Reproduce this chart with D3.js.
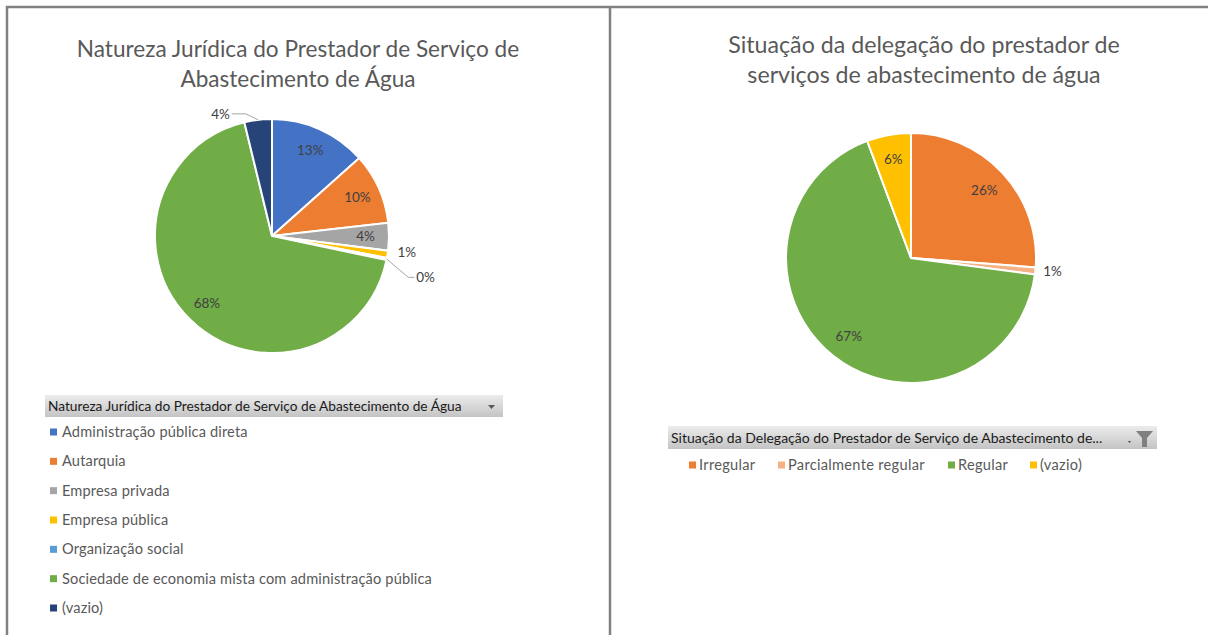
<!DOCTYPE html>
<html>
<head>
<meta charset="utf-8">
<script src="https://cdn.jsdelivr.net/npm/d3@7"></script>
<style>
  body { margin: 0; background: #fff; }
  svg { display: block; font-family: Lato, "Open Sans", sans-serif; }
</style>
</head>
<body>
<svg id="chart" width="1208" height="635"></svg>
<script>
// left chart data
const natCategories = ["Administração pública direta", "Autarquia", "Empresa privada", "Empresa pública",
  "Organização social", "Sociedade de economia mista com administração pública", "(vazio)"];
const natValues = [13.4, 9.8, 3.8, 1.0, 0.3, 67.9, 3.8];
const natColors = ["#4472C4", "#ED7D31", "#A5A5A5", "#FFC000", "#5B9BD5", "#70AD47", "#264478"];
const natTitle = ["Natureza Jurídica do Prestador de Serviço de", "Abastecimento de Água"];
const natLegendTitle = "Natureza Jurídica do Prestador de Serviço de Abastecimento de Água";

// right chart data
const delCategories = ["Irregular", "Parcialmente regular", "Regular", "(vazio)"];
const delValues = [26.2, 0.9, 67.2, 5.7];
const delColors = ["#ED7D31", "#F4B183", "#70AD47", "#FFC000"];
const delTitle = ["Situação da delegação do prestador de", "serviços de abastecimento de água"];
const delLegendTitle = "Situação da Delegação do Prestador de Serviço de Abastecimento de...";

const svg = d3.select("#chart");

// frame lines
svg.append("path")
  .attr("d", "M7,635 V7 H1208 M610,7 V635")
  .attr("fill", "none")
  .attr("stroke", "#808080")
  .attr("stroke-width", 2.5);

// gradient for the pivot header bars
const grad = svg.append("defs").append("linearGradient")
  .attr("id", "hdr").attr("x1", 0).attr("y1", 0).attr("x2", 0).attr("y2", 1);
grad.append("stop").attr("offset", "0%").attr("stop-color", "#ececec");
grad.append("stop").attr("offset", "100%").attr("stop-color", "#c4c4c4");

const fmt = v => Math.round(v) + "%";

function drawPie(opts) {
  const g = svg.append("g").attr("transform", `translate(${opts.cx},${opts.cy})`);
  const pie = d3.pie().sort(null).value(d => d);
  const arcs = pie(opts.values);
  const arc = d3.arc().innerRadius(0).outerRadius(opts.r);
  const labelArc = d3.arc().innerRadius(opts.r * 0.8).outerRadius(opts.r * 0.8);

  g.selectAll("path.slice")
    .data(arcs)
    .join("path")
    .attr("class", "slice")
    .attr("d", arc)
    .attr("fill", (d, i) => opts.colors[i])
    .attr("stroke", "#fff")
    .attr("stroke-width", 2);

  arcs.forEach((d, i) => {
    const mid = (d.startAngle + d.endAngle) / 2;
    const out = opts.outside[i];
    if (!out) {
      const [x, y] = labelArc.centroid(d);
      g.append("text")
        .attr("x", x).attr("y", y)
        .attr("text-anchor", "middle")
        .attr("dy", "0.35em")
        .attr("font-size", 13.5)
        .attr("fill", "#404040")
        .text(fmt(d.value));
      return;
    }
    const ex = Math.sin(mid) * opts.r, ey = -Math.cos(mid) * opts.r;
    const lx = Math.sin(mid) * (opts.r + out.dist) + out.dx;
    const ly = -Math.cos(mid) * (opts.r + out.dist) + out.dy;
    const side = Math.sin(mid) >= 0 ? 1 : -1;
    if (out.leader) {
      g.append("path")
        .attr("d", `M${ex},${ey} L${lx},${ly} h${side * out.tail}`)
        .attr("fill", "none")
        .attr("stroke", "#A6A6A6")
        .attr("stroke-width", 1);
    }
    g.append("text")
      .attr("x", lx + side * (out.leader ? out.tail + 2 : 0)).attr("y", ly)
      .attr("dy", "0.35em")
      .attr("text-anchor", side > 0 ? "start" : "end")
      .attr("font-size", 13.5)
      .attr("fill", "#404040")
      .text(fmt(d.value));
  });

  // title
  const t = svg.append("text")
    .attr("x", opts.titleX).attr("y", opts.titleY)
    .attr("text-anchor", "middle")
    .attr("font-size", opts.titleSize)
    .attr("fill", "#595959");
  opts.title.forEach((line, i) => {
    t.append("tspan").attr("x", opts.titleX).attr("dy", i ? 29.5 : 0).text(line);
  });
}

drawPie({
  cx: 272, cy: 236, r: 117,
  values: natValues, colors: natColors, title: natTitle,
  titleX: 298, titleY: 57, titleSize: 22.6,
  outside: [null, null, null,
    { dist: 10, dx: 0, dy: -4, leader: false },
    { dist: 22, dx: 0, dy: 14, leader: true, tail: 6 },
    null,
    { dist: 2, dx: -12, dy: -4, leader: true, tail: 14 }]
});

drawPie({
  cx: 911, cy: 258, r: 125,
  values: delValues, colors: delColors, title: delTitle,
  titleX: 924, titleY: 53, titleSize: 23.2,
  outside: [null, { dist: 8, dx: 0, dy: 0, leader: false }, null, null]
});

// left legend (vertical)
const lh = svg.append("g");
lh.append("rect").attr("x", 45).attr("y", 395).attr("width", 458).attr("height", 22)
  .attr("fill", "url(#hdr)");
lh.append("text").attr("x", 48).attr("y", 410.5).attr("font-size", 13.7).attr("fill", "#1a1a1a")
  .text(natLegendTitle);
lh.append("path").attr("d", "M488,405 h7 l-3.5,4 z").attr("fill", "#595959");

const legY = d3.scalePoint().domain(natCategories).range([432, 608]);
const li = lh.selectAll("g.item").data(natCategories).join("g").attr("class", "item")
  .attr("transform", d => `translate(50,${legY(d)})`);
li.append("rect").attr("x", 0).attr("y", -3.5).attr("width", 7).attr("height", 7)
  .attr("fill", (d, i) => natColors[i]);
li.append("text").attr("x", 12).attr("dy", "0.35em").attr("font-size", 14.6)
  .attr("letter-spacing", 0.15).attr("fill", "#595959")
  .text(d => d);

// right legend (horizontal)
const rh = svg.append("g");
rh.append("rect").attr("x", 668).attr("y", 426).attr("width", 489).attr("height", 23)
  .attr("fill", "url(#hdr)");
rh.append("text").attr("x", 671).attr("y", 442.5).attr("font-size", 14).attr("fill", "#1a1a1a")
  .text(delLegendTitle);
rh.append("path").attr("d", "M1128,441 h3 l-1.5,2 z").attr("fill", "#404040");
rh.append("path").attr("d", "M1136,431 h17 l-6,7 v9 h-5 v-9 z").attr("fill", "#7f7f7f");

const legX = [689, 778, 948, 1030];
const ri = rh.selectAll("g.item").data(delCategories).join("g").attr("class", "item")
  .attr("transform", (d, i) => `translate(${legX[i]},465)`);
ri.append("rect").attr("x", 0).attr("y", -3.5).attr("width", 7).attr("height", 7)
  .attr("fill", (d, i) => delColors[i]);
ri.append("text").attr("x", 10).attr("dy", "0.35em").attr("font-size", 14.6)
  .attr("letter-spacing", 0.3).attr("fill", "#595959")
  .text(d => d);
</script>
</body>
</html>
